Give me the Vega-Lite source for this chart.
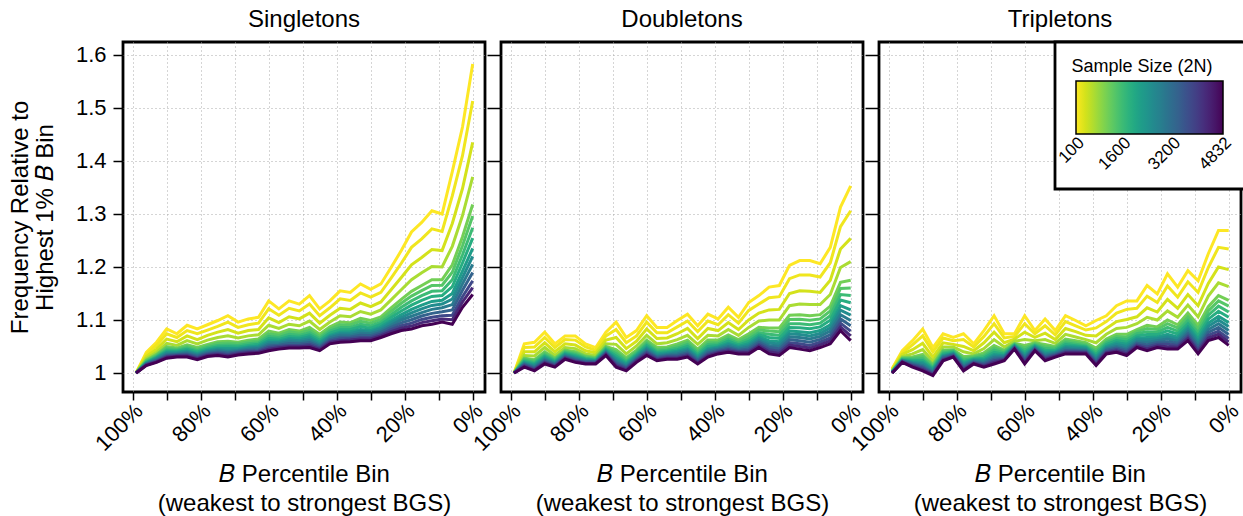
{
"$schema":"https://vega.github.io/schema/vega-lite/v6.json",
"background":"white",
"padding":{"left":7,"top":6,"right":0,"bottom":0},
"bounds":"flush",
"spacing":16,
"config":{
"font":"Liberation Sans",
"view":{"stroke":"black","strokeWidth":2.8},
"axis":{"domain":false,"grid":true,"gridColor":"#aaaaaa","gridDash":[1,3],"gridWidth":1,"tickColor":"black","tickWidth":1.5,"labelColor":"black","titleColor":"black","labelFont":"Liberation Sans","titleFont":"Liberation Sans","labelFontSize":22,"titleFontSize":24,"titleFontWeight":"normal"},
"title":{"font":"Liberation Sans","fontSize":24,"fontWeight":"normal","color":"black","offset":10}
},
"datasets":{
"singletons":[
{"b":1,"n":100,"y":1},{"b":1,"n":200,"y":1},{"b":1,"n":400,"y":1},{"b":1,"n":700,"y":1},{"b":1,"n":1100,"y":1},{"b":1,"n":1350,"y":1},{"b":1,"n":1600,"y":1},{"b":1,"n":1900,"y":1},{"b":1,"n":2200,"y":1},{"b":1,"n":2550,"y":1},{"b":1,"n":2900,"y":1},{"b":1,"n":3350,"y":1},{"b":1,"n":3800,"y":1},{"b":1,"n":4300,"y":1},{"b":1,"n":4832,"y":1},
{"b":4,"n":100,"y":1.039},{"b":4,"n":200,"y":1.035},{"b":4,"n":400,"y":1.031},{"b":4,"n":700,"y":1.027},{"b":4,"n":1100,"y":1.024},{"b":4,"n":1600,"y":1.021},{"b":4,"n":2200,"y":1.019},{"b":4,"n":2900,"y":1.017},{"b":4,"n":3800,"y":1.016},{"b":4,"n":4832,"y":1.014},{"b":4,"n":1350,"y":1.0225},{"b":4,"n":1900,"y":1.02},{"b":4,"n":2550,"y":1.018},{"b":4,"n":3350,"y":1.0165},{"b":4,"n":4300,"y":1.015},
{"b":7,"n":100,"y":1.058},{"b":7,"n":200,"y":1.052},{"b":7,"n":400,"y":1.045},{"b":7,"n":700,"y":1.039},{"b":7,"n":1100,"y":1.035},{"b":7,"n":1600,"y":1.031},{"b":7,"n":2200,"y":1.028},{"b":7,"n":2900,"y":1.025},{"b":7,"n":3800,"y":1.022},{"b":7,"n":4832,"y":1.020},{"b":7,"n":1350,"y":1.033},{"b":7,"n":1900,"y":1.0295},{"b":7,"n":2550,"y":1.0265},{"b":7,"n":3350,"y":1.0235},{"b":7,"n":4300,"y":1.021},
{"b":10,"n":100,"y":1.083},{"b":10,"n":200,"y":1.074},{"b":10,"n":400,"y":1.064},{"b":10,"n":700,"y":1.056},{"b":10,"n":1100,"y":1.050},{"b":10,"n":1600,"y":1.044},{"b":10,"n":2200,"y":1.039},{"b":10,"n":2900,"y":1.035},{"b":10,"n":3800,"y":1.031},{"b":10,"n":4832,"y":1.028},{"b":10,"n":1350,"y":1.047},{"b":10,"n":1900,"y":1.0415},{"b":10,"n":2550,"y":1.037},{"b":10,"n":3350,"y":1.033},{"b":10,"n":4300,"y":1.0295},
{"b":13,"n":100,"y":1.074},{"b":13,"n":200,"y":1.067},{"b":13,"n":400,"y":1.059},{"b":13,"n":700,"y":1.052},{"b":13,"n":1100,"y":1.047},{"b":13,"n":1600,"y":1.043},{"b":13,"n":2200,"y":1.039},{"b":13,"n":2900,"y":1.036},{"b":13,"n":3800,"y":1.033},{"b":13,"n":4832,"y":1.030},{"b":13,"n":1350,"y":1.045},{"b":13,"n":1900,"y":1.041},{"b":13,"n":2550,"y":1.0375},{"b":13,"n":3350,"y":1.0345},{"b":13,"n":4300,"y":1.0315},
{"b":16,"n":100,"y":1.090},{"b":16,"n":200,"y":1.080},{"b":16,"n":400,"y":1.070},{"b":16,"n":700,"y":1.061},{"b":16,"n":1100,"y":1.053},{"b":16,"n":1600,"y":1.047},{"b":16,"n":2200,"y":1.042},{"b":16,"n":2900,"y":1.038},{"b":16,"n":3800,"y":1.034},{"b":16,"n":4832,"y":1.030},{"b":16,"n":1350,"y":1.05},{"b":16,"n":1900,"y":1.0445},{"b":16,"n":2550,"y":1.04},{"b":16,"n":3350,"y":1.036},{"b":16,"n":4300,"y":1.032},
{"b":19,"n":100,"y":1.083},{"b":19,"n":200,"y":1.074},{"b":19,"n":400,"y":1.063},{"b":19,"n":700,"y":1.055},{"b":19,"n":1100,"y":1.048},{"b":19,"n":1600,"y":1.042},{"b":19,"n":2200,"y":1.037},{"b":19,"n":2900,"y":1.033},{"b":19,"n":3800,"y":1.029},{"b":19,"n":4832,"y":1.025},{"b":19,"n":1350,"y":1.045},{"b":19,"n":1900,"y":1.0395},{"b":19,"n":2550,"y":1.035},{"b":19,"n":3350,"y":1.031},{"b":19,"n":4300,"y":1.027},
{"b":22,"n":100,"y":1.091},{"b":22,"n":200,"y":1.081},{"b":22,"n":400,"y":1.071},{"b":22,"n":700,"y":1.062},{"b":22,"n":1100,"y":1.054},{"b":22,"n":1600,"y":1.048},{"b":22,"n":2200,"y":1.043},{"b":22,"n":2900,"y":1.039},{"b":22,"n":3800,"y":1.035},{"b":22,"n":4832,"y":1.031},{"b":22,"n":1350,"y":1.051},{"b":22,"n":1900,"y":1.0455},{"b":22,"n":2550,"y":1.041},{"b":22,"n":3350,"y":1.037},{"b":22,"n":4300,"y":1.033},
{"b":25,"n":100,"y":1.099},{"b":25,"n":200,"y":1.088},{"b":25,"n":400,"y":1.077},{"b":25,"n":700,"y":1.067},{"b":25,"n":1100,"y":1.059},{"b":25,"n":1600,"y":1.052},{"b":25,"n":2200,"y":1.046},{"b":25,"n":2900,"y":1.042},{"b":25,"n":3800,"y":1.037},{"b":25,"n":4832,"y":1.033},{"b":25,"n":1350,"y":1.0555},{"b":25,"n":1900,"y":1.049},{"b":25,"n":2550,"y":1.044},{"b":25,"n":3350,"y":1.0395},{"b":25,"n":4300,"y":1.035},
{"b":28,"n":100,"y":1.108},{"b":28,"n":200,"y":1.096},{"b":28,"n":400,"y":1.082},{"b":28,"n":700,"y":1.070},{"b":28,"n":1100,"y":1.060},{"b":28,"n":1600,"y":1.053},{"b":28,"n":2200,"y":1.046},{"b":28,"n":2900,"y":1.040},{"b":28,"n":3800,"y":1.035},{"b":28,"n":4832,"y":1.030},{"b":28,"n":1350,"y":1.0565},{"b":28,"n":1900,"y":1.0495},{"b":28,"n":2550,"y":1.043},{"b":28,"n":3350,"y":1.0375},{"b":28,"n":4300,"y":1.0325},
{"b":31,"n":100,"y":1.096},{"b":31,"n":200,"y":1.086},{"b":31,"n":400,"y":1.075},{"b":31,"n":700,"y":1.066},{"b":31,"n":1100,"y":1.058},{"b":31,"n":1600,"y":1.052},{"b":31,"n":2200,"y":1.046},{"b":31,"n":2900,"y":1.042},{"b":31,"n":3800,"y":1.038},{"b":31,"n":4832,"y":1.034},{"b":31,"n":1350,"y":1.055},{"b":31,"n":1900,"y":1.049},{"b":31,"n":2550,"y":1.044},{"b":31,"n":3350,"y":1.04},{"b":31,"n":4300,"y":1.036},
{"b":34,"n":100,"y":1.102},{"b":34,"n":200,"y":1.091},{"b":34,"n":400,"y":1.080},{"b":34,"n":700,"y":1.070},{"b":34,"n":1100,"y":1.062},{"b":34,"n":1600,"y":1.055},{"b":34,"n":2200,"y":1.049},{"b":34,"n":2900,"y":1.045},{"b":34,"n":3800,"y":1.040},{"b":34,"n":4832,"y":1.036},{"b":34,"n":1350,"y":1.0585},{"b":34,"n":1900,"y":1.052},{"b":34,"n":2550,"y":1.047},{"b":34,"n":3350,"y":1.0425},{"b":34,"n":4300,"y":1.038},
{"b":37,"n":100,"y":1.105},{"b":37,"n":200,"y":1.094},{"b":37,"n":400,"y":1.082},{"b":37,"n":700,"y":1.072},{"b":37,"n":1100,"y":1.064},{"b":37,"n":1600,"y":1.057},{"b":37,"n":2200,"y":1.051},{"b":37,"n":2900,"y":1.046},{"b":37,"n":3800,"y":1.041},{"b":37,"n":4832,"y":1.037},{"b":37,"n":1350,"y":1.0605},{"b":37,"n":1900,"y":1.054},{"b":37,"n":2550,"y":1.0485},{"b":37,"n":3350,"y":1.0435},{"b":37,"n":4300,"y":1.039},
{"b":40,"n":100,"y":1.136},{"b":40,"n":200,"y":1.121},{"b":40,"n":400,"y":1.104},{"b":40,"n":700,"y":1.090},{"b":40,"n":1100,"y":1.079},{"b":40,"n":1600,"y":1.069},{"b":40,"n":2200,"y":1.061},{"b":40,"n":2900,"y":1.054},{"b":40,"n":3800,"y":1.048},{"b":40,"n":4832,"y":1.042},{"b":40,"n":1350,"y":1.074},{"b":40,"n":1900,"y":1.065},{"b":40,"n":2550,"y":1.0575},{"b":40,"n":3350,"y":1.051},{"b":40,"n":4300,"y":1.045},
{"b":43,"n":100,"y":1.121},{"b":43,"n":200,"y":1.109},{"b":43,"n":400,"y":1.095},{"b":43,"n":700,"y":1.084},{"b":43,"n":1100,"y":1.075},{"b":43,"n":1600,"y":1.067},{"b":43,"n":2200,"y":1.060},{"b":43,"n":2900,"y":1.055},{"b":43,"n":3800,"y":1.050},{"b":43,"n":4832,"y":1.045},{"b":43,"n":1350,"y":1.071},{"b":43,"n":1900,"y":1.0635},{"b":43,"n":2550,"y":1.0575},{"b":43,"n":3350,"y":1.0525},{"b":43,"n":4300,"y":1.0475},
{"b":46,"n":100,"y":1.136},{"b":46,"n":200,"y":1.122},{"b":46,"n":400,"y":1.106},{"b":46,"n":700,"y":1.092},{"b":46,"n":1100,"y":1.082},{"b":46,"n":1600,"y":1.073},{"b":46,"n":2200,"y":1.065},{"b":46,"n":2900,"y":1.059},{"b":46,"n":3800,"y":1.052},{"b":46,"n":4832,"y":1.047},{"b":46,"n":1350,"y":1.0775},{"b":46,"n":1900,"y":1.069},{"b":46,"n":2550,"y":1.062},{"b":46,"n":3350,"y":1.0555},{"b":46,"n":4300,"y":1.0495},
{"b":49,"n":100,"y":1.130},{"b":49,"n":200,"y":1.117},{"b":49,"n":400,"y":1.102},{"b":49,"n":700,"y":1.089},{"b":49,"n":1100,"y":1.079},{"b":49,"n":1600,"y":1.071},{"b":49,"n":2200,"y":1.064},{"b":49,"n":2900,"y":1.058},{"b":49,"n":3800,"y":1.052},{"b":49,"n":4832,"y":1.047},{"b":49,"n":1350,"y":1.075},{"b":49,"n":1900,"y":1.0675},{"b":49,"n":2550,"y":1.061},{"b":49,"n":3350,"y":1.055},{"b":49,"n":4300,"y":1.0495},
{"b":52,"n":100,"y":1.146},{"b":52,"n":200,"y":1.130},{"b":52,"n":400,"y":1.113},{"b":52,"n":700,"y":1.098},{"b":52,"n":1100,"y":1.086},{"b":52,"n":1600,"y":1.076},{"b":52,"n":2200,"y":1.068},{"b":52,"n":2900,"y":1.061},{"b":52,"n":3800,"y":1.054},{"b":52,"n":4832,"y":1.048},{"b":52,"n":1350,"y":1.081},{"b":52,"n":1900,"y":1.072},{"b":52,"n":2550,"y":1.0645},{"b":52,"n":3350,"y":1.0575},{"b":52,"n":4300,"y":1.051},
{"b":55,"n":100,"y":1.121},{"b":55,"n":200,"y":1.108},{"b":55,"n":400,"y":1.094},{"b":55,"n":700,"y":1.082},{"b":55,"n":1100,"y":1.073},{"b":55,"n":1600,"y":1.065},{"b":55,"n":2200,"y":1.058},{"b":55,"n":2900,"y":1.052},{"b":55,"n":3800,"y":1.047},{"b":55,"n":4832,"y":1.042},{"b":55,"n":1350,"y":1.069},{"b":55,"n":1900,"y":1.0615},{"b":55,"n":2550,"y":1.055},{"b":55,"n":3350,"y":1.0495},{"b":55,"n":4300,"y":1.0445},
{"b":58,"n":100,"y":1.136},{"b":58,"n":200,"y":1.123},{"b":58,"n":400,"y":1.109},{"b":58,"n":700,"y":1.096},{"b":58,"n":1100,"y":1.087},{"b":58,"n":1600,"y":1.079},{"b":58,"n":2200,"y":1.071},{"b":58,"n":2900,"y":1.066},{"b":58,"n":3800,"y":1.060},{"b":58,"n":4832,"y":1.055},{"b":58,"n":1350,"y":1.083},{"b":58,"n":1900,"y":1.075},{"b":58,"n":2550,"y":1.0685},{"b":58,"n":3350,"y":1.063},{"b":58,"n":4300,"y":1.0575},
{"b":61,"n":100,"y":1.155},{"b":61,"n":200,"y":1.140},{"b":61,"n":400,"y":1.122},{"b":61,"n":700,"y":1.108},{"b":61,"n":1100,"y":1.096},{"b":61,"n":1600,"y":1.086},{"b":61,"n":2200,"y":1.077},{"b":61,"n":2900,"y":1.071},{"b":61,"n":3800,"y":1.064},{"b":61,"n":4832,"y":1.058},{"b":61,"n":1350,"y":1.091},{"b":61,"n":1900,"y":1.0815},{"b":61,"n":2550,"y":1.074},{"b":61,"n":3350,"y":1.0675},{"b":61,"n":4300,"y":1.061},
{"b":64,"n":100,"y":1.152},{"b":64,"n":200,"y":1.137},{"b":64,"n":400,"y":1.120},{"b":64,"n":700,"y":1.106},{"b":64,"n":1100,"y":1.095},{"b":64,"n":1600,"y":1.086},{"b":64,"n":2200,"y":1.078},{"b":64,"n":2900,"y":1.071},{"b":64,"n":3800,"y":1.065},{"b":64,"n":4832,"y":1.059},{"b":64,"n":1350,"y":1.0905},{"b":64,"n":1900,"y":1.082},{"b":64,"n":2550,"y":1.0745},{"b":64,"n":3350,"y":1.068},{"b":64,"n":4300,"y":1.062},
{"b":67,"n":100,"y":1.168},{"b":67,"n":200,"y":1.151},{"b":67,"n":400,"y":1.132},{"b":67,"n":700,"y":1.116},{"b":67,"n":1100,"y":1.103},{"b":67,"n":1600,"y":1.092},{"b":67,"n":2200,"y":1.082},{"b":67,"n":2900,"y":1.075},{"b":67,"n":3800,"y":1.067},{"b":67,"n":4832,"y":1.061},{"b":67,"n":1350,"y":1.0975},{"b":67,"n":1900,"y":1.087},{"b":67,"n":2550,"y":1.0785},{"b":67,"n":3350,"y":1.071},{"b":67,"n":4300,"y":1.064},
{"b":70,"n":100,"y":1.158},{"b":70,"n":200,"y":1.143},{"b":70,"n":400,"y":1.125},{"b":70,"n":700,"y":1.111},{"b":70,"n":1100,"y":1.099},{"b":70,"n":1600,"y":1.089},{"b":70,"n":2200,"y":1.080},{"b":70,"n":2900,"y":1.074},{"b":70,"n":3800,"y":1.067},{"b":70,"n":4832,"y":1.061},{"b":70,"n":1350,"y":1.094},{"b":70,"n":1900,"y":1.0845},{"b":70,"n":2550,"y":1.077},{"b":70,"n":3350,"y":1.0705},{"b":70,"n":4300,"y":1.064},
{"b":73,"n":100,"y":1.168},{"b":73,"n":200,"y":1.152},{"b":73,"n":400,"y":1.134},{"b":73,"n":700,"y":1.119},{"b":73,"n":1100,"y":1.106},{"b":73,"n":1600,"y":1.096},{"b":73,"n":2200,"y":1.087},{"b":73,"n":2900,"y":1.080},{"b":73,"n":3800,"y":1.073},{"b":73,"n":4832,"y":1.067},{"b":73,"n":1350,"y":1.101},{"b":73,"n":1900,"y":1.0915},{"b":73,"n":2550,"y":1.0835},{"b":73,"n":3350,"y":1.0765},{"b":73,"n":4300,"y":1.07},
{"b":76,"n":100,"y":1.199},{"b":76,"n":200,"y":1.179},{"b":76,"n":400,"y":1.157},{"b":76,"n":700,"y":1.138},{"b":76,"n":1100,"y":1.123},{"b":76,"n":1600,"y":1.110},{"b":76,"n":2200,"y":1.099},{"b":76,"n":2900,"y":1.090},{"b":76,"n":3800,"y":1.082},{"b":76,"n":4832,"y":1.074},{"b":76,"n":1350,"y":1.1165},{"b":76,"n":1900,"y":1.1045},{"b":76,"n":2550,"y":1.0945},{"b":76,"n":3350,"y":1.086},{"b":76,"n":4300,"y":1.078},
{"b":79,"n":100,"y":1.231},{"b":79,"n":200,"y":1.207},{"b":79,"n":400,"y":1.180},{"b":79,"n":700,"y":1.157},{"b":79,"n":1100,"y":1.139},{"b":79,"n":1600,"y":1.124},{"b":79,"n":2200,"y":1.110},{"b":79,"n":2900,"y":1.100},{"b":79,"n":3800,"y":1.089},{"b":79,"n":4832,"y":1.080},{"b":79,"n":1350,"y":1.1315},{"b":79,"n":1900,"y":1.117},{"b":79,"n":2550,"y":1.105},{"b":79,"n":3350,"y":1.0945},{"b":79,"n":4300,"y":1.0845},
{"b":82,"n":100,"y":1.266},{"b":82,"n":200,"y":1.237},{"b":82,"n":400,"y":1.204},{"b":82,"n":700,"y":1.176},{"b":82,"n":1100,"y":1.154},{"b":82,"n":1600,"y":1.136},{"b":82,"n":2200,"y":1.120},{"b":82,"n":2900,"y":1.107},{"b":82,"n":3800,"y":1.094},{"b":82,"n":4832,"y":1.083},{"b":82,"n":1350,"y":1.145},{"b":82,"n":1900,"y":1.128},{"b":82,"n":2550,"y":1.1135},{"b":82,"n":3350,"y":1.1005},{"b":82,"n":4300,"y":1.0885},
{"b":85,"n":100,"y":1.284},{"b":85,"n":200,"y":1.253},{"b":85,"n":400,"y":1.218},{"b":85,"n":700,"y":1.189},{"b":85,"n":1100,"y":1.165},{"b":85,"n":1600,"y":1.146},{"b":85,"n":2200,"y":1.128},{"b":85,"n":2900,"y":1.114},{"b":85,"n":3800,"y":1.101},{"b":85,"n":4832,"y":1.089},{"b":85,"n":1350,"y":1.1555},{"b":85,"n":1900,"y":1.137},{"b":85,"n":2550,"y":1.121},{"b":85,"n":3350,"y":1.1075},{"b":85,"n":4300,"y":1.095},
{"b":88,"n":100,"y":1.306},{"b":88,"n":200,"y":1.272},{"b":88,"n":400,"y":1.233},{"b":88,"n":700,"y":1.201},{"b":88,"n":1100,"y":1.176},{"b":88,"n":1600,"y":1.154},{"b":88,"n":2200,"y":1.135},{"b":88,"n":2900,"y":1.120},{"b":88,"n":3800,"y":1.105},{"b":88,"n":4832,"y":1.092},{"b":88,"n":1350,"y":1.165},{"b":88,"n":1900,"y":1.1445},{"b":88,"n":2550,"y":1.1275},{"b":88,"n":3350,"y":1.1125},{"b":88,"n":4300,"y":1.0985},
{"b":91,"n":100,"y":1.300},{"b":91,"n":200,"y":1.267},{"b":91,"n":400,"y":1.231},{"b":91,"n":700,"y":1.200},{"b":91,"n":1100,"y":1.176},{"b":91,"n":1600,"y":1.155},{"b":91,"n":2200,"y":1.137},{"b":91,"n":2900,"y":1.123},{"b":91,"n":3800,"y":1.108},{"b":91,"n":4832,"y":1.096},{"b":91,"n":1350,"y":1.1655},{"b":91,"n":1900,"y":1.146},{"b":91,"n":2550,"y":1.13},{"b":91,"n":3350,"y":1.1155},{"b":91,"n":4300,"y":1.102},
{"b":94,"n":100,"y":1.380},{"b":94,"n":200,"y":1.334},{"b":94,"n":400,"y":1.282},{"b":94,"n":700,"y":1.239},{"b":94,"n":1100,"y":1.204},{"b":94,"n":1600,"y":1.176},{"b":94,"n":2200,"y":1.150},{"b":94,"n":2900,"y":1.129},{"b":94,"n":3800,"y":1.109},{"b":94,"n":4832,"y":1.092},{"b":94,"n":1350,"y":1.19},{"b":94,"n":1900,"y":1.163},{"b":94,"n":2550,"y":1.1395},{"b":94,"n":3350,"y":1.119},{"b":94,"n":4300,"y":1.1005},
{"b":97,"n":100,"y":1.464},{"b":97,"n":200,"y":1.410},{"b":97,"n":400,"y":1.348},{"b":97,"n":700,"y":1.297},{"b":97,"n":1100,"y":1.257},{"b":97,"n":1600,"y":1.223},{"b":97,"n":2200,"y":1.192},{"b":97,"n":2900,"y":1.168},{"b":97,"n":3800,"y":1.144},{"b":97,"n":4832,"y":1.124},{"b":97,"n":1350,"y":1.24},{"b":97,"n":1900,"y":1.2075},{"b":97,"n":2550,"y":1.18},{"b":97,"n":3350,"y":1.156},{"b":97,"n":4300,"y":1.134},
{"b":100,"n":100,"y":1.583},{"b":100,"n":200,"y":1.513},{"b":100,"n":400,"y":1.435},{"b":100,"n":700,"y":1.370},{"b":100,"n":1100,"y":1.318},{"b":100,"n":1600,"y":1.274},{"b":100,"n":2200,"y":1.235},{"b":100,"n":2900,"y":1.205},{"b":100,"n":3800,"y":1.174},{"b":100,"n":4832,"y":1.148},{"b":100,"n":1350,"y":1.296},{"b":100,"n":1900,"y":1.2545},{"b":100,"n":2550,"y":1.22},{"b":100,"n":3350,"y":1.1895},{"b":100,"n":4300,"y":1.161}
],
"doubletons":[
{"b":1,"n":100,"y":1},{"b":1,"n":200,"y":1},{"b":1,"n":400,"y":1},{"b":1,"n":700,"y":1},{"b":1,"n":1100,"y":1},{"b":1,"n":1350,"y":1},{"b":1,"n":1600,"y":1},{"b":1,"n":1900,"y":1},{"b":1,"n":2200,"y":1},{"b":1,"n":2550,"y":1},{"b":1,"n":2900,"y":1},{"b":1,"n":3350,"y":1},{"b":1,"n":3800,"y":1},{"b":1,"n":4300,"y":1},{"b":1,"n":4832,"y":1},
{"b":4,"n":100,"y":1.055},{"b":4,"n":200,"y":1.048},{"b":4,"n":400,"y":1.040},{"b":4,"n":700,"y":1.033},{"b":4,"n":1100,"y":1.028},{"b":4,"n":1600,"y":1.024},{"b":4,"n":2200,"y":1.020},{"b":4,"n":2900,"y":1.017},{"b":4,"n":3800,"y":1.014},{"b":4,"n":4832,"y":1.011},{"b":4,"n":1350,"y":1.026},{"b":4,"n":1900,"y":1.022},{"b":4,"n":2550,"y":1.0185},{"b":4,"n":3350,"y":1.0155},{"b":4,"n":4300,"y":1.0125},
{"b":7,"n":100,"y":1.058},{"b":7,"n":200,"y":1.049},{"b":7,"n":400,"y":1.040},{"b":7,"n":700,"y":1.032},{"b":7,"n":1100,"y":1.025},{"b":7,"n":1600,"y":1.020},{"b":7,"n":2200,"y":1.015},{"b":7,"n":2900,"y":1.011},{"b":7,"n":3800,"y":1.007},{"b":7,"n":4832,"y":1.004},{"b":7,"n":1350,"y":1.0225},{"b":7,"n":1900,"y":1.0175},{"b":7,"n":2550,"y":1.013},{"b":7,"n":3350,"y":1.009},{"b":7,"n":4300,"y":1.0055},
{"b":10,"n":100,"y":1.077},{"b":10,"n":200,"y":1.067},{"b":10,"n":400,"y":1.057},{"b":10,"n":700,"y":1.048},{"b":10,"n":1100,"y":1.040},{"b":10,"n":1600,"y":1.034},{"b":10,"n":2200,"y":1.029},{"b":10,"n":2900,"y":1.025},{"b":10,"n":3800,"y":1.021},{"b":10,"n":4832,"y":1.017},{"b":10,"n":1350,"y":1.037},{"b":10,"n":1900,"y":1.0315},{"b":10,"n":2550,"y":1.027},{"b":10,"n":3350,"y":1.023},{"b":10,"n":4300,"y":1.019},
{"b":13,"n":100,"y":1.055},{"b":13,"n":200,"y":1.048},{"b":13,"n":400,"y":1.040},{"b":13,"n":700,"y":1.033},{"b":13,"n":1100,"y":1.028},{"b":13,"n":1600,"y":1.024},{"b":13,"n":2200,"y":1.020},{"b":13,"n":2900,"y":1.017},{"b":13,"n":3800,"y":1.014},{"b":13,"n":4832,"y":1.011},{"b":13,"n":1350,"y":1.026},{"b":13,"n":1900,"y":1.022},{"b":13,"n":2550,"y":1.0185},{"b":13,"n":3350,"y":1.0155},{"b":13,"n":4300,"y":1.0125},
{"b":16,"n":100,"y":1.070},{"b":16,"n":200,"y":1.063},{"b":16,"n":400,"y":1.055},{"b":16,"n":700,"y":1.048},{"b":16,"n":1100,"y":1.043},{"b":16,"n":1600,"y":1.039},{"b":16,"n":2200,"y":1.035},{"b":16,"n":2900,"y":1.032},{"b":16,"n":3800,"y":1.029},{"b":16,"n":4832,"y":1.026},{"b":16,"n":1350,"y":1.041},{"b":16,"n":1900,"y":1.037},{"b":16,"n":2550,"y":1.0335},{"b":16,"n":3350,"y":1.0305},{"b":16,"n":4300,"y":1.0275},
{"b":19,"n":100,"y":1.070},{"b":19,"n":200,"y":1.062},{"b":19,"n":400,"y":1.053},{"b":19,"n":700,"y":1.046},{"b":19,"n":1100,"y":1.040},{"b":19,"n":1600,"y":1.035},{"b":19,"n":2200,"y":1.030},{"b":19,"n":2900,"y":1.027},{"b":19,"n":3800,"y":1.023},{"b":19,"n":4832,"y":1.020},{"b":19,"n":1350,"y":1.0375},{"b":19,"n":1900,"y":1.0325},{"b":19,"n":2550,"y":1.0285},{"b":19,"n":3350,"y":1.025},{"b":19,"n":4300,"y":1.0215},
{"b":22,"n":100,"y":1.055},{"b":22,"n":200,"y":1.049},{"b":22,"n":400,"y":1.042},{"b":22,"n":700,"y":1.036},{"b":22,"n":1100,"y":1.032},{"b":22,"n":1600,"y":1.028},{"b":22,"n":2200,"y":1.025},{"b":22,"n":2900,"y":1.022},{"b":22,"n":3800,"y":1.019},{"b":22,"n":4832,"y":1.017},{"b":22,"n":1350,"y":1.03},{"b":22,"n":1900,"y":1.0265},{"b":22,"n":2550,"y":1.0235},{"b":22,"n":3350,"y":1.0205},{"b":22,"n":4300,"y":1.018},
{"b":25,"n":100,"y":1.048},{"b":25,"n":200,"y":1.043},{"b":25,"n":400,"y":1.038},{"b":25,"n":700,"y":1.033},{"b":25,"n":1100,"y":1.029},{"b":25,"n":1600,"y":1.026},{"b":25,"n":2200,"y":1.023},{"b":25,"n":2900,"y":1.021},{"b":25,"n":3800,"y":1.019},{"b":25,"n":4832,"y":1.017},{"b":25,"n":1350,"y":1.0275},{"b":25,"n":1900,"y":1.0245},{"b":25,"n":2550,"y":1.022},{"b":25,"n":3350,"y":1.02},{"b":25,"n":4300,"y":1.018},
{"b":28,"n":100,"y":1.077},{"b":28,"n":200,"y":1.070},{"b":28,"n":400,"y":1.062},{"b":28,"n":700,"y":1.055},{"b":28,"n":1100,"y":1.050},{"b":28,"n":1600,"y":1.046},{"b":28,"n":2200,"y":1.042},{"b":28,"n":2900,"y":1.039},{"b":28,"n":3800,"y":1.036},{"b":28,"n":4832,"y":1.033},{"b":28,"n":1350,"y":1.048},{"b":28,"n":1900,"y":1.044},{"b":28,"n":2550,"y":1.0405},{"b":28,"n":3350,"y":1.0375},{"b":28,"n":4300,"y":1.0345},
{"b":31,"n":100,"y":1.096},{"b":31,"n":200,"y":1.082},{"b":31,"n":400,"y":1.067},{"b":31,"n":700,"y":1.054},{"b":31,"n":1100,"y":1.044},{"b":31,"n":1600,"y":1.036},{"b":31,"n":2200,"y":1.028},{"b":31,"n":2900,"y":1.022},{"b":31,"n":3800,"y":1.016},{"b":31,"n":4832,"y":1.011},{"b":31,"n":1350,"y":1.04},{"b":31,"n":1900,"y":1.032},{"b":31,"n":2550,"y":1.025},{"b":31,"n":3350,"y":1.019},{"b":31,"n":4300,"y":1.0135},
{"b":34,"n":100,"y":1.067},{"b":34,"n":200,"y":1.057},{"b":34,"n":400,"y":1.046},{"b":34,"n":700,"y":1.036},{"b":34,"n":1100,"y":1.029},{"b":34,"n":1600,"y":1.022},{"b":34,"n":2200,"y":1.017},{"b":34,"n":2900,"y":1.012},{"b":34,"n":3800,"y":1.008},{"b":34,"n":4832,"y":1.004},{"b":34,"n":1350,"y":1.0255},{"b":34,"n":1900,"y":1.0195},{"b":34,"n":2550,"y":1.0145},{"b":34,"n":3350,"y":1.01},{"b":34,"n":4300,"y":1.006},
{"b":37,"n":100,"y":1.080},{"b":37,"n":200,"y":1.070},{"b":37,"n":400,"y":1.060},{"b":37,"n":700,"y":1.051},{"b":37,"n":1100,"y":1.043},{"b":37,"n":1600,"y":1.037},{"b":37,"n":2200,"y":1.032},{"b":37,"n":2900,"y":1.028},{"b":37,"n":3800,"y":1.024},{"b":37,"n":4832,"y":1.020},{"b":37,"n":1350,"y":1.04},{"b":37,"n":1900,"y":1.0345},{"b":37,"n":2550,"y":1.03},{"b":37,"n":3350,"y":1.026},{"b":37,"n":4300,"y":1.022},
{"b":40,"n":100,"y":1.108},{"b":40,"n":200,"y":1.096},{"b":40,"n":400,"y":1.083},{"b":40,"n":700,"y":1.071},{"b":40,"n":1100,"y":1.062},{"b":40,"n":1600,"y":1.055},{"b":40,"n":2200,"y":1.048},{"b":40,"n":2900,"y":1.043},{"b":40,"n":3800,"y":1.038},{"b":40,"n":4832,"y":1.033},{"b":40,"n":1350,"y":1.0585},{"b":40,"n":1900,"y":1.0515},{"b":40,"n":2550,"y":1.0455},{"b":40,"n":3350,"y":1.0405},{"b":40,"n":4300,"y":1.0355},
{"b":43,"n":100,"y":1.086},{"b":43,"n":200,"y":1.076},{"b":43,"n":400,"y":1.065},{"b":43,"n":700,"y":1.055},{"b":43,"n":1100,"y":1.048},{"b":43,"n":1600,"y":1.041},{"b":43,"n":2200,"y":1.036},{"b":43,"n":2900,"y":1.031},{"b":43,"n":3800,"y":1.027},{"b":43,"n":4832,"y":1.023},{"b":43,"n":1350,"y":1.0445},{"b":43,"n":1900,"y":1.0385},{"b":43,"n":2550,"y":1.0335},{"b":43,"n":3350,"y":1.029},{"b":43,"n":4300,"y":1.025},
{"b":46,"n":100,"y":1.086},{"b":46,"n":200,"y":1.076},{"b":46,"n":400,"y":1.066},{"b":46,"n":700,"y":1.057},{"b":46,"n":1100,"y":1.049},{"b":46,"n":1600,"y":1.043},{"b":46,"n":2200,"y":1.038},{"b":46,"n":2900,"y":1.034},{"b":46,"n":3800,"y":1.030},{"b":46,"n":4832,"y":1.026},{"b":46,"n":1350,"y":1.046},{"b":46,"n":1900,"y":1.0405},{"b":46,"n":2550,"y":1.036},{"b":46,"n":3350,"y":1.032},{"b":46,"n":4300,"y":1.028},
{"b":49,"n":100,"y":1.099},{"b":49,"n":200,"y":1.087},{"b":49,"n":400,"y":1.074},{"b":49,"n":700,"y":1.063},{"b":49,"n":1100,"y":1.055},{"b":49,"n":1600,"y":1.047},{"b":49,"n":2200,"y":1.041},{"b":49,"n":2900,"y":1.036},{"b":49,"n":3800,"y":1.030},{"b":49,"n":4832,"y":1.026},{"b":49,"n":1350,"y":1.051},{"b":49,"n":1900,"y":1.044},{"b":49,"n":2550,"y":1.0385},{"b":49,"n":3350,"y":1.033},{"b":49,"n":4300,"y":1.028},
{"b":52,"n":100,"y":1.111},{"b":52,"n":200,"y":1.098},{"b":52,"n":400,"y":1.084},{"b":52,"n":700,"y":1.071},{"b":52,"n":1100,"y":1.062},{"b":52,"n":1600,"y":1.054},{"b":52,"n":2200,"y":1.046},{"b":52,"n":2900,"y":1.041},{"b":52,"n":3800,"y":1.035},{"b":52,"n":4832,"y":1.030},{"b":52,"n":1350,"y":1.058},{"b":52,"n":1900,"y":1.05},{"b":52,"n":2550,"y":1.0435},{"b":52,"n":3350,"y":1.038},{"b":52,"n":4300,"y":1.0325},
{"b":55,"n":100,"y":1.089},{"b":55,"n":200,"y":1.078},{"b":55,"n":400,"y":1.065},{"b":55,"n":700,"y":1.054},{"b":55,"n":1100,"y":1.045},{"b":55,"n":1600,"y":1.038},{"b":55,"n":2200,"y":1.031},{"b":55,"n":2900,"y":1.026},{"b":55,"n":3800,"y":1.021},{"b":55,"n":4832,"y":1.017},{"b":55,"n":1350,"y":1.0415},{"b":55,"n":1900,"y":1.0345},{"b":55,"n":2550,"y":1.0285},{"b":55,"n":3350,"y":1.0235},{"b":55,"n":4300,"y":1.019},
{"b":58,"n":100,"y":1.111},{"b":58,"n":200,"y":1.098},{"b":58,"n":400,"y":1.084},{"b":58,"n":700,"y":1.071},{"b":58,"n":1100,"y":1.062},{"b":58,"n":1600,"y":1.054},{"b":58,"n":2200,"y":1.046},{"b":58,"n":2900,"y":1.041},{"b":58,"n":3800,"y":1.035},{"b":58,"n":4832,"y":1.030},{"b":58,"n":1350,"y":1.058},{"b":58,"n":1900,"y":1.05},{"b":58,"n":2550,"y":1.0435},{"b":58,"n":3350,"y":1.038},{"b":58,"n":4300,"y":1.0325},
{"b":61,"n":100,"y":1.102},{"b":61,"n":200,"y":1.091},{"b":61,"n":400,"y":1.080},{"b":61,"n":700,"y":1.070},{"b":61,"n":1100,"y":1.062},{"b":61,"n":1600,"y":1.055},{"b":61,"n":2200,"y":1.049},{"b":61,"n":2900,"y":1.045},{"b":61,"n":3800,"y":1.040},{"b":61,"n":4832,"y":1.036},{"b":61,"n":1350,"y":1.0585},{"b":61,"n":1900,"y":1.052},{"b":61,"n":2550,"y":1.047},{"b":61,"n":3350,"y":1.0425},{"b":61,"n":4300,"y":1.038},
{"b":64,"n":100,"y":1.124},{"b":64,"n":200,"y":1.110},{"b":64,"n":400,"y":1.095},{"b":64,"n":700,"y":1.082},{"b":64,"n":1100,"y":1.072},{"b":64,"n":1600,"y":1.064},{"b":64,"n":2200,"y":1.056},{"b":64,"n":2900,"y":1.050},{"b":64,"n":3800,"y":1.044},{"b":64,"n":4832,"y":1.039},{"b":64,"n":1350,"y":1.068},{"b":64,"n":1900,"y":1.06},{"b":64,"n":2550,"y":1.053},{"b":64,"n":3350,"y":1.047},{"b":64,"n":4300,"y":1.0415},
{"b":67,"n":100,"y":1.105},{"b":67,"n":200,"y":1.094},{"b":67,"n":400,"y":1.082},{"b":67,"n":700,"y":1.071},{"b":67,"n":1100,"y":1.063},{"b":67,"n":1600,"y":1.056},{"b":67,"n":2200,"y":1.050},{"b":67,"n":2900,"y":1.045},{"b":67,"n":3800,"y":1.040},{"b":67,"n":4832,"y":1.036},{"b":67,"n":1350,"y":1.0595},{"b":67,"n":1900,"y":1.053},{"b":67,"n":2550,"y":1.0475},{"b":67,"n":3350,"y":1.0425},{"b":67,"n":4300,"y":1.038},
{"b":70,"n":100,"y":1.133},{"b":70,"n":200,"y":1.118},{"b":70,"n":400,"y":1.100},{"b":70,"n":700,"y":1.086},{"b":70,"n":1100,"y":1.074},{"b":70,"n":1600,"y":1.064},{"b":70,"n":2200,"y":1.055},{"b":70,"n":2900,"y":1.049},{"b":70,"n":3800,"y":1.042},{"b":70,"n":4832,"y":1.036},{"b":70,"n":1350,"y":1.069},{"b":70,"n":1900,"y":1.0595},{"b":70,"n":2550,"y":1.052},{"b":70,"n":3350,"y":1.0455},{"b":70,"n":4300,"y":1.039},
{"b":73,"n":100,"y":1.146},{"b":73,"n":200,"y":1.130},{"b":73,"n":400,"y":1.113},{"b":73,"n":700,"y":1.098},{"b":73,"n":1100,"y":1.086},{"b":73,"n":1600,"y":1.076},{"b":73,"n":2200,"y":1.068},{"b":73,"n":2900,"y":1.061},{"b":73,"n":3800,"y":1.054},{"b":73,"n":4832,"y":1.048},{"b":73,"n":1350,"y":1.081},{"b":73,"n":1900,"y":1.072},{"b":73,"n":2550,"y":1.0645},{"b":73,"n":3350,"y":1.0575},{"b":73,"n":4300,"y":1.051},
{"b":76,"n":100,"y":1.162},{"b":76,"n":200,"y":1.142},{"b":76,"n":400,"y":1.119},{"b":76,"n":700,"y":1.100},{"b":76,"n":1100,"y":1.085},{"b":76,"n":1600,"y":1.073},{"b":76,"n":2200,"y":1.061},{"b":76,"n":2900,"y":1.052},{"b":76,"n":3800,"y":1.044},{"b":76,"n":4832,"y":1.036},{"b":76,"n":1350,"y":1.079},{"b":76,"n":1900,"y":1.067},{"b":76,"n":2550,"y":1.0565},{"b":76,"n":3350,"y":1.048},{"b":76,"n":4300,"y":1.04},
{"b":79,"n":100,"y":1.165},{"b":79,"n":200,"y":1.144},{"b":79,"n":400,"y":1.120},{"b":79,"n":700,"y":1.100},{"b":79,"n":1100,"y":1.085},{"b":79,"n":1600,"y":1.071},{"b":79,"n":2200,"y":1.059},{"b":79,"n":2900,"y":1.050},{"b":79,"n":3800,"y":1.041},{"b":79,"n":4832,"y":1.033},{"b":79,"n":1350,"y":1.078},{"b":79,"n":1900,"y":1.065},{"b":79,"n":2550,"y":1.0545},{"b":79,"n":3350,"y":1.0455},{"b":79,"n":4300,"y":1.037},
{"b":82,"n":100,"y":1.203},{"b":82,"n":200,"y":1.178},{"b":82,"n":400,"y":1.150},{"b":82,"n":700,"y":1.127},{"b":82,"n":1100,"y":1.109},{"b":82,"n":1600,"y":1.093},{"b":82,"n":2200,"y":1.079},{"b":82,"n":2900,"y":1.068},{"b":82,"n":3800,"y":1.057},{"b":82,"n":4832,"y":1.048},{"b":82,"n":1350,"y":1.101},{"b":82,"n":1900,"y":1.086},{"b":82,"n":2550,"y":1.0735},{"b":82,"n":3350,"y":1.0625},{"b":82,"n":4300,"y":1.0525},
{"b":85,"n":100,"y":1.212},{"b":85,"n":200,"y":1.185},{"b":85,"n":400,"y":1.155},{"b":85,"n":700,"y":1.130},{"b":85,"n":1100,"y":1.110},{"b":85,"n":1600,"y":1.093},{"b":85,"n":2200,"y":1.078},{"b":85,"n":2900,"y":1.067},{"b":85,"n":3800,"y":1.055},{"b":85,"n":4832,"y":1.045},{"b":85,"n":1350,"y":1.1015},{"b":85,"n":1900,"y":1.0855},{"b":85,"n":2550,"y":1.0725},{"b":85,"n":3350,"y":1.061},{"b":85,"n":4300,"y":1.05},
{"b":88,"n":100,"y":1.212},{"b":88,"n":200,"y":1.185},{"b":88,"n":400,"y":1.154},{"b":88,"n":700,"y":1.129},{"b":88,"n":1100,"y":1.108},{"b":88,"n":1600,"y":1.091},{"b":88,"n":2200,"y":1.076},{"b":88,"n":2900,"y":1.064},{"b":88,"n":3800,"y":1.052},{"b":88,"n":4832,"y":1.042},{"b":88,"n":1350,"y":1.0995},{"b":88,"n":1900,"y":1.0835},{"b":88,"n":2550,"y":1.07},{"b":88,"n":3350,"y":1.058},{"b":88,"n":4300,"y":1.047},
{"b":91,"n":100,"y":1.206},{"b":91,"n":200,"y":1.181},{"b":91,"n":400,"y":1.152},{"b":91,"n":700,"y":1.129},{"b":91,"n":1100,"y":1.110},{"b":91,"n":1600,"y":1.094},{"b":91,"n":2200,"y":1.080},{"b":91,"n":2900,"y":1.069},{"b":91,"n":3800,"y":1.058},{"b":91,"n":4832,"y":1.048},{"b":91,"n":1350,"y":1.102},{"b":91,"n":1900,"y":1.087},{"b":91,"n":2550,"y":1.0745},{"b":91,"n":3350,"y":1.0635},{"b":91,"n":4300,"y":1.053},
{"b":94,"n":100,"y":1.237},{"b":94,"n":200,"y":1.208},{"b":94,"n":400,"y":1.175},{"b":94,"n":700,"y":1.148},{"b":94,"n":1100,"y":1.126},{"b":94,"n":1600,"y":1.108},{"b":94,"n":2200,"y":1.091},{"b":94,"n":2900,"y":1.079},{"b":94,"n":3800,"y":1.066},{"b":94,"n":4832,"y":1.055},{"b":94,"n":1350,"y":1.117},{"b":94,"n":1900,"y":1.0995},{"b":94,"n":2550,"y":1.085},{"b":94,"n":3350,"y":1.0725},{"b":94,"n":4300,"y":1.0605},
{"b":97,"n":100,"y":1.313},{"b":97,"n":200,"y":1.276},{"b":97,"n":400,"y":1.234},{"b":97,"n":700,"y":1.199},{"b":97,"n":1100,"y":1.171},{"b":97,"n":1600,"y":1.148},{"b":97,"n":2200,"y":1.127},{"b":97,"n":2900,"y":1.110},{"b":97,"n":3800,"y":1.094},{"b":97,"n":4832,"y":1.080},{"b":97,"n":1350,"y":1.1595},{"b":97,"n":1900,"y":1.1375},{"b":97,"n":2550,"y":1.1185},{"b":97,"n":3350,"y":1.102},{"b":97,"n":4300,"y":1.087},
{"b":100,"n":100,"y":1.353},{"b":100,"n":200,"y":1.306},{"b":100,"n":400,"y":1.254},{"b":100,"n":700,"y":1.210},{"b":100,"n":1100,"y":1.175},{"b":100,"n":1600,"y":1.146},{"b":100,"n":2200,"y":1.119},{"b":100,"n":2900,"y":1.099},{"b":100,"n":3800,"y":1.079},{"b":100,"n":4832,"y":1.061},{"b":100,"n":1350,"y":1.1605},{"b":100,"n":1900,"y":1.1325},{"b":100,"n":2550,"y":1.109},{"b":100,"n":3350,"y":1.089},{"b":100,"n":4300,"y":1.07}
],
"tripletons":[
{"b":1,"n":100,"y":1.008},{"b":1,"n":200,"y":1.007},{"b":1,"n":400,"y":1.005},{"b":1,"n":700,"y":1.004},{"b":1,"n":1100,"y":1.003},{"b":1,"n":1350,"y":1.0025},{"b":1,"n":1600,"y":1.002},{"b":1,"n":1900,"y":1.002},{"b":1,"n":2200,"y":1.002},{"b":1,"n":2550,"y":1.0015},{"b":1,"n":2900,"y":1.001},{"b":1,"n":3350,"y":1.0005},{"b":1,"n":3800,"y":1.000},{"b":1,"n":4300,"y":1.000},{"b":1,"n":4832,"y":1.000},
{"b":4,"n":100,"y":1.042},{"b":4,"n":200,"y":1.038},{"b":4,"n":400,"y":1.035},{"b":4,"n":700,"y":1.031},{"b":4,"n":1100,"y":1.029},{"b":4,"n":1600,"y":1.026},{"b":4,"n":2200,"y":1.024},{"b":4,"n":2900,"y":1.023},{"b":4,"n":3800,"y":1.021},{"b":4,"n":4832,"y":1.020},{"b":4,"n":1350,"y":1.0275},{"b":4,"n":1900,"y":1.025},{"b":4,"n":2550,"y":1.0235},{"b":4,"n":3350,"y":1.022},{"b":4,"n":4300,"y":1.0205},
{"b":7,"n":100,"y":1.061},{"b":7,"n":200,"y":1.053},{"b":7,"n":400,"y":1.044},{"b":7,"n":700,"y":1.036},{"b":7,"n":1100,"y":1.030},{"b":7,"n":1600,"y":1.026},{"b":7,"n":2200,"y":1.021},{"b":7,"n":2900,"y":1.018},{"b":7,"n":3800,"y":1.014},{"b":7,"n":4832,"y":1.011},{"b":7,"n":1350,"y":1.028},{"b":7,"n":1900,"y":1.0235},{"b":7,"n":2550,"y":1.0195},{"b":7,"n":3350,"y":1.016},{"b":7,"n":4300,"y":1.0125},
{"b":10,"n":100,"y":1.083},{"b":10,"n":200,"y":1.070},{"b":10,"n":400,"y":1.056},{"b":10,"n":700,"y":1.044},{"b":10,"n":1100,"y":1.035},{"b":10,"n":1600,"y":1.027},{"b":10,"n":2200,"y":1.020},{"b":10,"n":2900,"y":1.014},{"b":10,"n":3800,"y":1.009},{"b":10,"n":4832,"y":1.004},{"b":10,"n":1350,"y":1.031},{"b":10,"n":1900,"y":1.0235},{"b":10,"n":2550,"y":1.017},{"b":10,"n":3350,"y":1.0115},{"b":10,"n":4300,"y":1.0065},
{"b":13,"n":100,"y":1.048},{"b":13,"n":200,"y":1.040},{"b":13,"n":400,"y":1.030},{"b":13,"n":700,"y":1.022},{"b":13,"n":1100,"y":1.016},{"b":13,"n":1600,"y":1.010},{"b":13,"n":2200,"y":1.006},{"b":13,"n":2900,"y":1.002},{"b":13,"n":3800,"y":0.998},{"b":13,"n":4832,"y":0.995},{"b":13,"n":1350,"y":1.013},{"b":13,"n":1900,"y":1.008},{"b":13,"n":2550,"y":1.004},{"b":13,"n":3350,"y":1.0},{"b":13,"n":4300,"y":0.9965},
{"b":16,"n":100,"y":1.074},{"b":16,"n":200,"y":1.066},{"b":16,"n":400,"y":1.057},{"b":16,"n":700,"y":1.049},{"b":16,"n":1100,"y":1.043},{"b":16,"n":1600,"y":1.038},{"b":16,"n":2200,"y":1.033},{"b":16,"n":2900,"y":1.030},{"b":16,"n":3800,"y":1.026},{"b":16,"n":4832,"y":1.023},{"b":16,"n":1350,"y":1.0405},{"b":16,"n":1900,"y":1.0355},{"b":16,"n":2550,"y":1.0315},{"b":16,"n":3350,"y":1.028},{"b":16,"n":4300,"y":1.0245},
{"b":19,"n":100,"y":1.067},{"b":19,"n":200,"y":1.061},{"b":19,"n":400,"y":1.054},{"b":19,"n":700,"y":1.049},{"b":19,"n":1100,"y":1.044},{"b":19,"n":1600,"y":1.041},{"b":19,"n":2200,"y":1.037},{"b":19,"n":2900,"y":1.035},{"b":19,"n":3800,"y":1.032},{"b":19,"n":4832,"y":1.030},{"b":19,"n":1350,"y":1.0425},{"b":19,"n":1900,"y":1.039},{"b":19,"n":2550,"y":1.036},{"b":19,"n":3350,"y":1.0335},{"b":19,"n":4300,"y":1.031},
{"b":22,"n":100,"y":1.074},{"b":22,"n":200,"y":1.063},{"b":22,"n":400,"y":1.050},{"b":22,"n":700,"y":1.040},{"b":22,"n":1100,"y":1.031},{"b":22,"n":1600,"y":1.024},{"b":22,"n":2200,"y":1.018},{"b":22,"n":2900,"y":1.013},{"b":22,"n":3800,"y":1.008},{"b":22,"n":4832,"y":1.004},{"b":22,"n":1350,"y":1.0275},{"b":22,"n":1900,"y":1.021},{"b":22,"n":2550,"y":1.0155},{"b":22,"n":3350,"y":1.0105},{"b":22,"n":4300,"y":1.006},
{"b":25,"n":100,"y":1.055},{"b":25,"n":200,"y":1.049},{"b":25,"n":400,"y":1.042},{"b":25,"n":700,"y":1.036},{"b":25,"n":1100,"y":1.032},{"b":25,"n":1600,"y":1.028},{"b":25,"n":2200,"y":1.025},{"b":25,"n":2900,"y":1.022},{"b":25,"n":3800,"y":1.019},{"b":25,"n":4832,"y":1.017},{"b":25,"n":1350,"y":1.03},{"b":25,"n":1900,"y":1.0265},{"b":25,"n":2550,"y":1.0235},{"b":25,"n":3350,"y":1.0205},{"b":25,"n":4300,"y":1.018},
{"b":28,"n":100,"y":1.080},{"b":28,"n":200,"y":1.069},{"b":28,"n":400,"y":1.057},{"b":28,"n":700,"y":1.046},{"b":28,"n":1100,"y":1.038},{"b":28,"n":1600,"y":1.031},{"b":28,"n":2200,"y":1.025},{"b":28,"n":2900,"y":1.020},{"b":28,"n":3800,"y":1.015},{"b":28,"n":4832,"y":1.011},{"b":28,"n":1350,"y":1.0345},{"b":28,"n":1900,"y":1.028},{"b":28,"n":2550,"y":1.0225},{"b":28,"n":3350,"y":1.0175},{"b":28,"n":4300,"y":1.013},
{"b":31,"n":100,"y":1.108},{"b":31,"n":200,"y":1.093},{"b":31,"n":400,"y":1.077},{"b":31,"n":700,"y":1.063},{"b":31,"n":1100,"y":1.052},{"b":31,"n":1600,"y":1.043},{"b":31,"n":2200,"y":1.035},{"b":31,"n":2900,"y":1.029},{"b":31,"n":3800,"y":1.023},{"b":31,"n":4832,"y":1.017},{"b":31,"n":1350,"y":1.0475},{"b":31,"n":1900,"y":1.039},{"b":31,"n":2550,"y":1.032},{"b":31,"n":3350,"y":1.026},{"b":31,"n":4300,"y":1.02},
{"b":34,"n":100,"y":1.074},{"b":34,"n":200,"y":1.066},{"b":34,"n":400,"y":1.057},{"b":34,"n":700,"y":1.049},{"b":34,"n":1100,"y":1.043},{"b":34,"n":1600,"y":1.038},{"b":34,"n":2200,"y":1.033},{"b":34,"n":2900,"y":1.030},{"b":34,"n":3800,"y":1.026},{"b":34,"n":4832,"y":1.023},{"b":34,"n":1350,"y":1.0405},{"b":34,"n":1900,"y":1.0355},{"b":34,"n":2550,"y":1.0315},{"b":34,"n":3350,"y":1.028},{"b":34,"n":4300,"y":1.0245},
{"b":37,"n":100,"y":1.074},{"b":37,"n":200,"y":1.069},{"b":37,"n":400,"y":1.064},{"b":37,"n":700,"y":1.060},{"b":37,"n":1100,"y":1.056},{"b":37,"n":1600,"y":1.053},{"b":37,"n":2200,"y":1.051},{"b":37,"n":2900,"y":1.049},{"b":37,"n":3800,"y":1.047},{"b":37,"n":4832,"y":1.045},{"b":37,"n":1350,"y":1.0545},{"b":37,"n":1900,"y":1.052},{"b":37,"n":2550,"y":1.05},{"b":37,"n":3350,"y":1.048},{"b":37,"n":4300,"y":1.046},
{"b":40,"n":100,"y":1.108},{"b":40,"n":200,"y":1.093},{"b":40,"n":400,"y":1.077},{"b":40,"n":700,"y":1.063},{"b":40,"n":1100,"y":1.052},{"b":40,"n":1600,"y":1.043},{"b":40,"n":2200,"y":1.035},{"b":40,"n":2900,"y":1.029},{"b":40,"n":3800,"y":1.023},{"b":40,"n":4832,"y":1.017},{"b":40,"n":1350,"y":1.0475},{"b":40,"n":1900,"y":1.039},{"b":40,"n":2550,"y":1.032},{"b":40,"n":3350,"y":1.026},{"b":40,"n":4300,"y":1.02},
{"b":43,"n":100,"y":1.080},{"b":43,"n":200,"y":1.074},{"b":43,"n":400,"y":1.067},{"b":43,"n":700,"y":1.061},{"b":43,"n":1100,"y":1.057},{"b":43,"n":1600,"y":1.053},{"b":43,"n":2200,"y":1.050},{"b":43,"n":2900,"y":1.047},{"b":43,"n":3800,"y":1.044},{"b":43,"n":4832,"y":1.042},{"b":43,"n":1350,"y":1.055},{"b":43,"n":1900,"y":1.0515},{"b":43,"n":2550,"y":1.0485},{"b":43,"n":3350,"y":1.0455},{"b":43,"n":4300,"y":1.043},
{"b":46,"n":100,"y":1.102},{"b":46,"n":200,"y":1.089},{"b":46,"n":400,"y":1.075},{"b":46,"n":700,"y":1.063},{"b":46,"n":1100,"y":1.054},{"b":46,"n":1600,"y":1.046},{"b":46,"n":2200,"y":1.039},{"b":46,"n":2900,"y":1.033},{"b":46,"n":3800,"y":1.028},{"b":46,"n":4832,"y":1.023},{"b":46,"n":1350,"y":1.05},{"b":46,"n":1900,"y":1.0425},{"b":46,"n":2550,"y":1.036},{"b":46,"n":3350,"y":1.0305},{"b":46,"n":4300,"y":1.0255},
{"b":49,"n":100,"y":1.080},{"b":49,"n":200,"y":1.072},{"b":49,"n":400,"y":1.063},{"b":49,"n":700,"y":1.056},{"b":49,"n":1100,"y":1.050},{"b":49,"n":1600,"y":1.045},{"b":49,"n":2200,"y":1.040},{"b":49,"n":2900,"y":1.037},{"b":49,"n":3800,"y":1.033},{"b":49,"n":4832,"y":1.030},{"b":49,"n":1350,"y":1.0475},{"b":49,"n":1900,"y":1.0425},{"b":49,"n":2550,"y":1.0385},{"b":49,"n":3350,"y":1.035},{"b":49,"n":4300,"y":1.0315},
{"b":52,"n":100,"y":1.108},{"b":52,"n":200,"y":1.097},{"b":52,"n":400,"y":1.084},{"b":52,"n":700,"y":1.073},{"b":52,"n":1100,"y":1.064},{"b":52,"n":1600,"y":1.057},{"b":52,"n":2200,"y":1.050},{"b":52,"n":2900,"y":1.045},{"b":52,"n":3800,"y":1.040},{"b":52,"n":4832,"y":1.036},{"b":52,"n":1350,"y":1.0605},{"b":52,"n":1900,"y":1.0535},{"b":52,"n":2550,"y":1.0475},{"b":52,"n":3350,"y":1.0425},{"b":52,"n":4300,"y":1.038},
{"b":55,"n":100,"y":1.099},{"b":55,"n":200,"y":1.089},{"b":55,"n":400,"y":1.078},{"b":55,"n":700,"y":1.068},{"b":55,"n":1100,"y":1.061},{"b":55,"n":1600,"y":1.054},{"b":55,"n":2200,"y":1.049},{"b":55,"n":2900,"y":1.044},{"b":55,"n":3800,"y":1.040},{"b":55,"n":4832,"y":1.036},{"b":55,"n":1350,"y":1.0575},{"b":55,"n":1900,"y":1.0515},{"b":55,"n":2550,"y":1.0465},{"b":55,"n":3350,"y":1.042},{"b":55,"n":4300,"y":1.038},
{"b":58,"n":100,"y":1.089},{"b":58,"n":200,"y":1.081},{"b":58,"n":400,"y":1.071},{"b":58,"n":700,"y":1.063},{"b":58,"n":1100,"y":1.057},{"b":58,"n":1600,"y":1.051},{"b":58,"n":2200,"y":1.047},{"b":58,"n":2900,"y":1.043},{"b":58,"n":3800,"y":1.039},{"b":58,"n":4832,"y":1.036},{"b":58,"n":1350,"y":1.054},{"b":58,"n":1900,"y":1.049},{"b":58,"n":2550,"y":1.045},{"b":58,"n":3350,"y":1.041},{"b":58,"n":4300,"y":1.0375},
{"b":61,"n":100,"y":1.099},{"b":61,"n":200,"y":1.085},{"b":61,"n":400,"y":1.070},{"b":61,"n":700,"y":1.057},{"b":61,"n":1100,"y":1.047},{"b":61,"n":1600,"y":1.039},{"b":61,"n":2200,"y":1.031},{"b":61,"n":2900,"y":1.025},{"b":61,"n":3800,"y":1.019},{"b":61,"n":4832,"y":1.014},{"b":61,"n":1350,"y":1.043},{"b":61,"n":1900,"y":1.035},{"b":61,"n":2550,"y":1.028},{"b":61,"n":3350,"y":1.022},{"b":61,"n":4300,"y":1.0165},
{"b":64,"n":100,"y":1.108},{"b":64,"n":200,"y":1.097},{"b":64,"n":400,"y":1.084},{"b":64,"n":700,"y":1.073},{"b":64,"n":1100,"y":1.064},{"b":64,"n":1600,"y":1.057},{"b":64,"n":2200,"y":1.050},{"b":64,"n":2900,"y":1.045},{"b":64,"n":3800,"y":1.040},{"b":64,"n":4832,"y":1.036},{"b":64,"n":1350,"y":1.0605},{"b":64,"n":1900,"y":1.0535},{"b":64,"n":2550,"y":1.0475},{"b":64,"n":3350,"y":1.0425},{"b":64,"n":4300,"y":1.038},
{"b":67,"n":100,"y":1.127},{"b":67,"n":200,"y":1.113},{"b":67,"n":400,"y":1.097},{"b":67,"n":700,"y":1.084},{"b":67,"n":1100,"y":1.073},{"b":67,"n":1600,"y":1.065},{"b":67,"n":2200,"y":1.057},{"b":67,"n":2900,"y":1.050},{"b":67,"n":3800,"y":1.044},{"b":67,"n":4832,"y":1.039},{"b":67,"n":1350,"y":1.069},{"b":67,"n":1900,"y":1.061},{"b":67,"n":2550,"y":1.0535},{"b":67,"n":3350,"y":1.047},{"b":67,"n":4300,"y":1.0415},
{"b":70,"n":100,"y":1.136},{"b":70,"n":200,"y":1.120},{"b":70,"n":400,"y":1.101},{"b":70,"n":700,"y":1.086},{"b":70,"n":1100,"y":1.073},{"b":70,"n":1600,"y":1.063},{"b":70,"n":2200,"y":1.054},{"b":70,"n":2900,"y":1.046},{"b":70,"n":3800,"y":1.039},{"b":70,"n":4832,"y":1.033},{"b":70,"n":1350,"y":1.068},{"b":70,"n":1900,"y":1.0585},{"b":70,"n":2550,"y":1.05},{"b":70,"n":3350,"y":1.0425},{"b":70,"n":4300,"y":1.036},
{"b":73,"n":100,"y":1.136},{"b":73,"n":200,"y":1.122},{"b":73,"n":400,"y":1.106},{"b":73,"n":700,"y":1.093},{"b":73,"n":1100,"y":1.082},{"b":73,"n":1600,"y":1.074},{"b":73,"n":2200,"y":1.066},{"b":73,"n":2900,"y":1.059},{"b":73,"n":3800,"y":1.053},{"b":73,"n":4832,"y":1.048},{"b":73,"n":1350,"y":1.078},{"b":73,"n":1900,"y":1.07},{"b":73,"n":2550,"y":1.0625},{"b":73,"n":3350,"y":1.056},{"b":73,"n":4300,"y":1.0505},
{"b":76,"n":100,"y":1.165},{"b":76,"n":200,"y":1.145},{"b":76,"n":400,"y":1.123},{"b":76,"n":700,"y":1.105},{"b":76,"n":1100,"y":1.090},{"b":76,"n":1600,"y":1.078},{"b":76,"n":2200,"y":1.067},{"b":76,"n":2900,"y":1.058},{"b":76,"n":3800,"y":1.049},{"b":76,"n":4832,"y":1.042},{"b":76,"n":1350,"y":1.084},{"b":76,"n":1900,"y":1.0725},{"b":76,"n":2550,"y":1.0625},{"b":76,"n":3350,"y":1.0535},{"b":76,"n":4300,"y":1.0455},
{"b":79,"n":100,"y":1.149},{"b":79,"n":200,"y":1.133},{"b":79,"n":400,"y":1.115},{"b":79,"n":700,"y":1.100},{"b":79,"n":1100,"y":1.087},{"b":79,"n":1600,"y":1.077},{"b":79,"n":2200,"y":1.068},{"b":79,"n":2900,"y":1.061},{"b":79,"n":3800,"y":1.054},{"b":79,"n":4832,"y":1.048},{"b":79,"n":1350,"y":1.082},{"b":79,"n":1900,"y":1.0725},{"b":79,"n":2550,"y":1.0645},{"b":79,"n":3350,"y":1.0575},{"b":79,"n":4300,"y":1.051},
{"b":82,"n":100,"y":1.187},{"b":82,"n":200,"y":1.164},{"b":82,"n":400,"y":1.139},{"b":82,"n":700,"y":1.117},{"b":82,"n":1100,"y":1.100},{"b":82,"n":1600,"y":1.086},{"b":82,"n":2200,"y":1.073},{"b":82,"n":2900,"y":1.064},{"b":82,"n":3800,"y":1.054},{"b":82,"n":4832,"y":1.045},{"b":82,"n":1350,"y":1.093},{"b":82,"n":1900,"y":1.0795},{"b":82,"n":2550,"y":1.0685},{"b":82,"n":3350,"y":1.059},{"b":82,"n":4300,"y":1.0495},
{"b":85,"n":100,"y":1.162},{"b":85,"n":200,"y":1.143},{"b":85,"n":400,"y":1.122},{"b":85,"n":700,"y":1.105},{"b":85,"n":1100,"y":1.091},{"b":85,"n":1600,"y":1.079},{"b":85,"n":2200,"y":1.068},{"b":85,"n":2900,"y":1.060},{"b":85,"n":3800,"y":1.052},{"b":85,"n":4832,"y":1.045},{"b":85,"n":1350,"y":1.085},{"b":85,"n":1900,"y":1.0735},{"b":85,"n":2550,"y":1.064},{"b":85,"n":3350,"y":1.056},{"b":85,"n":4300,"y":1.0485},
{"b":88,"n":100,"y":1.193},{"b":88,"n":200,"y":1.172},{"b":88,"n":400,"y":1.148},{"b":88,"n":700,"y":1.128},{"b":88,"n":1100,"y":1.113},{"b":88,"n":1600,"y":1.099},{"b":88,"n":2200,"y":1.087},{"b":88,"n":2900,"y":1.078},{"b":88,"n":3800,"y":1.069},{"b":88,"n":4832,"y":1.061},{"b":88,"n":1350,"y":1.106},{"b":88,"n":1900,"y":1.093},{"b":88,"n":2550,"y":1.0825},{"b":88,"n":3350,"y":1.0735},{"b":88,"n":4300,"y":1.065},
{"b":91,"n":100,"y":1.174},{"b":91,"n":200,"y":1.152},{"b":91,"n":400,"y":1.127},{"b":91,"n":700,"y":1.106},{"b":91,"n":1100,"y":1.090},{"b":91,"n":1600,"y":1.076},{"b":91,"n":2200,"y":1.064},{"b":91,"n":2900,"y":1.054},{"b":91,"n":3800,"y":1.044},{"b":91,"n":4832,"y":1.036},{"b":91,"n":1350,"y":1.083},{"b":91,"n":1900,"y":1.07},{"b":91,"n":2550,"y":1.059},{"b":91,"n":3350,"y":1.049},{"b":91,"n":4300,"y":1.04},
{"b":94,"n":100,"y":1.225},{"b":94,"n":200,"y":1.199},{"b":94,"n":400,"y":1.169},{"b":94,"n":700,"y":1.145},{"b":94,"n":1100,"y":1.125},{"b":94,"n":1600,"y":1.109},{"b":94,"n":2200,"y":1.094},{"b":94,"n":2900,"y":1.082},{"b":94,"n":3800,"y":1.071},{"b":94,"n":4832,"y":1.061},{"b":94,"n":1350,"y":1.117},{"b":94,"n":1900,"y":1.1015},{"b":94,"n":2550,"y":1.088},{"b":94,"n":3350,"y":1.0765},{"b":94,"n":4300,"y":1.066},
{"b":97,"n":100,"y":1.269},{"b":97,"n":200,"y":1.237},{"b":97,"n":400,"y":1.200},{"b":97,"n":700,"y":1.170},{"b":97,"n":1100,"y":1.146},{"b":97,"n":1600,"y":1.126},{"b":97,"n":2200,"y":1.107},{"b":97,"n":2900,"y":1.093},{"b":97,"n":3800,"y":1.079},{"b":97,"n":4832,"y":1.067},{"b":97,"n":1350,"y":1.136},{"b":97,"n":1900,"y":1.1165},{"b":97,"n":2550,"y":1.1},{"b":97,"n":3350,"y":1.086},{"b":97,"n":4300,"y":1.073},
{"b":100,"n":100,"y":1.269},{"b":100,"n":200,"y":1.234},{"b":100,"n":400,"y":1.195},{"b":100,"n":700,"y":1.163},{"b":100,"n":1100,"y":1.137},{"b":100,"n":1600,"y":1.115},{"b":100,"n":2200,"y":1.095},{"b":100,"n":2900,"y":1.080},{"b":100,"n":3800,"y":1.065},{"b":100,"n":4832,"y":1.052},{"b":100,"n":1350,"y":1.126},{"b":100,"n":1900,"y":1.105},{"b":100,"n":2550,"y":1.0875},{"b":100,"n":3350,"y":1.0725},{"b":100,"n":4300,"y":1.0585}
]
},
"hconcat":[
{"title":"Singletons","width":362,"height":350,"data":{"name":"singletons"},
"mark":{"type":"line","strokeWidth":3,"clip":true},
"encoding":{
"x":{"field":"b","type":"quantitative","scale":{"domain":[-2.85,103.62],"nice":false,"zero":false},
"axis":{"values":[0,10,20,30,40,50,60,70,80,90,100],"labelExpr":"datum.value % 20 == 0 ? (100 - datum.value) + '%' : ''","labelAngle":-45,"labelAlign":"right","labelBaseline":"middle","labelPadding":7,"labelOffset":6,"labelOverlap":false,"labelFlush":false,"tickSize":8,"title":["𝐵 Percentile Bin","(weakest to strongest BGS)"],"titleLineHeight":29,"titlePadding":8}},
"y":{"field":"y","type":"quantitative","scale":{"domain":[0.9641,1.6245],"nice":false,"zero":false},
"axis":{"values":[1,1.1,1.2,1.3,1.4,1.5,1.6],"labelExpr":"'' + datum.value","tickSize":10,"labelPadding":7,"title":["Frequency Relative to","Highest 1% 𝐵 Bin"],"titleLineHeight":25,"titlePadding":18}},
"color":{"field":"n","type":"quantitative","scale":{"scheme":"viridis","reverse":true,"domain":[100,4832]},
"legend":{"orient":"none","legendX":932,"legendY":0,"direction":"horizontal","title":"Sample Size (2N)","titleFontSize":18,"titleFontWeight":"normal","titleAnchor":"middle","titleColor":"black","titlePadding":5,"gradientLength":147,"gradientThickness":53,"gradientStrokeColor":"black","gradientStrokeWidth":1.5,"values":[100,1600,3200,4832],"format":"d","labelFontSize":17,"labelColor":"black","labelOffset":12,"labelOverlap":false,"padding":16,"strokeColor":"black","fillColor":"white","zindex":2,
"encode":{"labels":{"update":{"angle":{"value":-45},"align":{"value":"right"},"baseline":{"value":"middle"},"dx":{"value":8}}},"legend":{"update":{"strokeWidth":{"value":2.8}}}}}}
}},
{"title":"Doubletons","width":362,"height":350,"data":{"name":"doubletons"},
"mark":{"type":"line","strokeWidth":3,"clip":true},
"encoding":{
"x":{"field":"b","type":"quantitative","scale":{"domain":[-2.85,103.62],"nice":false,"zero":false},
"axis":{"values":[0,10,20,30,40,50,60,70,80,90,100],"labelExpr":"datum.value % 20 == 0 ? (100 - datum.value) + '%' : ''","labelAngle":-45,"labelAlign":"right","labelBaseline":"middle","labelPadding":7,"labelOffset":6,"labelOverlap":false,"labelFlush":false,"tickSize":8,"title":["𝐵 Percentile Bin","(weakest to strongest BGS)"],"titleLineHeight":29,"titlePadding":8}},
"y":{"field":"y","type":"quantitative","scale":{"domain":[0.9641,1.6245],"nice":false,"zero":false},
"axis":{"values":[1,1.1,1.2,1.3,1.4,1.5,1.6],"labels":false,"tickSize":14,"title":null}},
"color":{"field":"n","type":"quantitative","scale":{"scheme":"viridis","reverse":true,"domain":[100,4832]},"legend":null}
}},
{"title":"Tripletons","width":362,"height":350,"data":{"name":"tripletons"},
"mark":{"type":"line","strokeWidth":3,"clip":true},
"encoding":{
"x":{"field":"b","type":"quantitative","scale":{"domain":[-2.85,103.62],"nice":false,"zero":false},
"axis":{"values":[0,10,20,30,40,50,60,70,80,90,100],"labelExpr":"datum.value % 20 == 0 ? (100 - datum.value) + '%' : ''","labelAngle":-45,"labelAlign":"right","labelBaseline":"middle","labelPadding":7,"labelOffset":6,"labelOverlap":false,"labelFlush":false,"tickSize":8,"title":["𝐵 Percentile Bin","(weakest to strongest BGS)"],"titleLineHeight":29,"titlePadding":8}},
"y":{"field":"y","type":"quantitative","scale":{"domain":[0.9641,1.6245],"nice":false,"zero":false},
"axis":{"values":[1,1.1,1.2,1.3,1.4,1.5,1.6],"labels":false,"tickSize":14,"title":null}},
"color":{"field":"n","type":"quantitative","scale":{"scheme":"viridis","reverse":true,"domain":[100,4832]},"legend":null}
}}
]
}
